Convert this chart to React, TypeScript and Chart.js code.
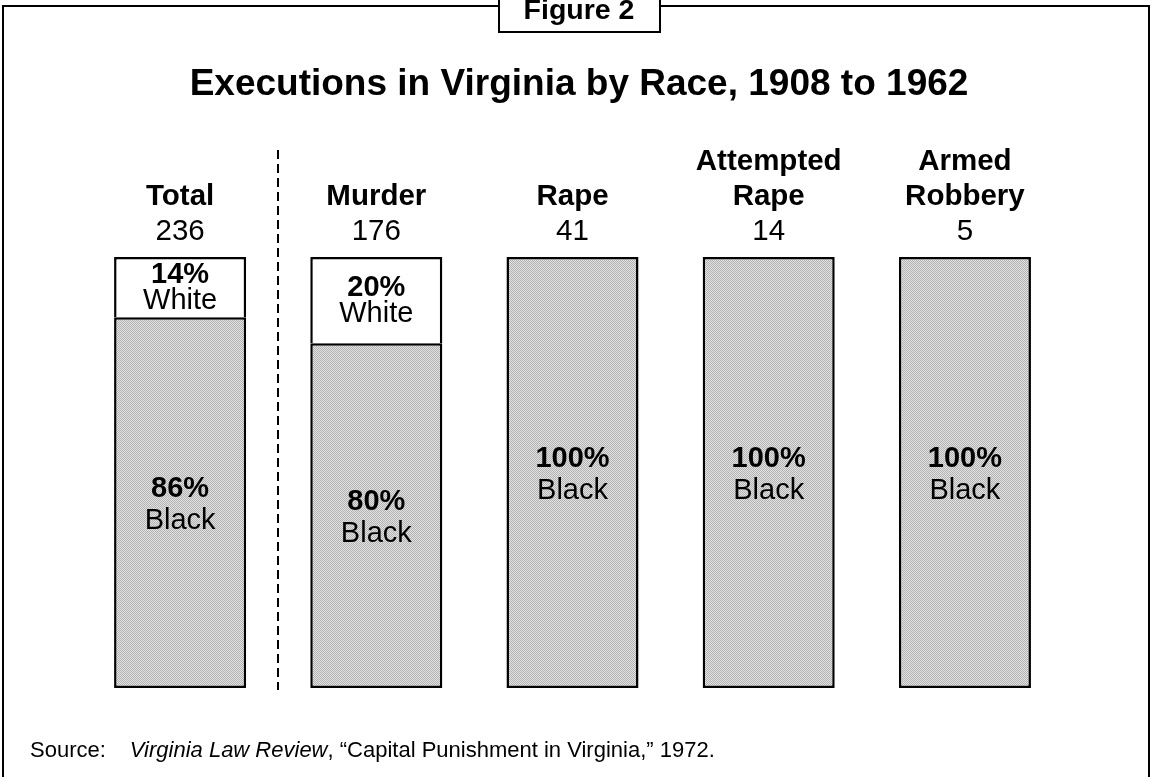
import React, { useEffect, useRef } from "react";
import { Chart, registerables } from "chart.js";

Chart.register(...registerables);

const categories: string[][] = [["Total"], ["Murder"], ["Rape"], ["Attempted", "Rape"], ["Armed", "Robbery"]];
const totals: number[] = [236, 176, 41, 14, 5];
const whitePct: number[] = [14, 20, 0, 0, 0];
const blackPct: number[] = [86, 80, 100, 100, 100];
const titleText = "Executions in Virginia by Race, 1908 to 1962";
const figureLabel = "Figure 2";
const sourceParts = [
  { text: "Source:", italic: false, gapAfter: 24 },
  { text: "Virginia Law Review", italic: true, gapAfter: 0 },
  { text: ", \u201CCapital Punishment in Virginia,\u201D 1972.", italic: false, gapAfter: 0 },
];

const FONT = '"Liberation Sans", Arial, Helvetica, sans-serif';

function makePattern(): CanvasPattern | string {
  const c = document.createElement("canvas");
  c.width = 2;
  c.height = 2;
  const g = c.getContext("2d");
  if (!g) return "#cccccc";
  g.fillStyle = "#e2e2e2";
  g.fillRect(0, 0, 2, 2);
  g.fillStyle = "#b2b2b2";
  g.fillRect(0, 0, 1, 1);
  g.fillRect(1, 1, 1, 1);
  const p = g.createPattern(c, "repeat");
  return p || "#cccccc";
}

const decorPlugin = {
  id: "decor",
  beforeDraw(chart: any) {
    const ctx = chart.ctx;
    ctx.save();
    ctx.fillStyle = "#ffffff";
    ctx.fillRect(0, 0, chart.width, chart.height);
    ctx.restore();
  },
  afterDraw(chart: any) {
    const ctx: CanvasRenderingContext2D = chart.ctx;
    ctx.save();
    // outer frame
    ctx.strokeStyle = "#000000";
    ctx.lineWidth = 2;
    ctx.strokeRect(3, 6, 1146, 800);
    // figure tab
    ctx.fillStyle = "#ffffff";
    ctx.fillRect(499, -10, 161, 42);
    ctx.strokeRect(499, -10, 161, 42);
    ctx.fillStyle = "#000000";
    ctx.textAlign = "center";
    ctx.textBaseline = "alphabetic";
    ctx.font = `bold 28.5px ${FONT}`;
    ctx.fillText(figureLabel, 579, 19);
    // title
    ctx.font = `bold 37px ${FONT}`;
    ctx.fillText(titleText, 579, 95);

    // headers & inner labels
    const metaB = chart.getDatasetMeta(0);
    const metaW = chart.getDatasetMeta(1);
    categories.forEach((lines, i) => {
      const bar = metaB.data[i];
      const x = bar.x;
      const all = [...lines, String(totals[i])];
      const lastBase = 240;
      all.forEach((t, k) => {
        const isCount = k === all.length - 1;
        ctx.font = `${isCount ? "" : "bold "}29.5px ${FONT}`;
        ctx.fillText(t, x, lastBase - (all.length - 1 - k) * 35);
      });
      const drawSeg = (el: any, pct: number, name: string) => {
        if (!pct) return;
        const top = Math.min(el.y, el.base);
        const bot = Math.max(el.y, el.base);
        const h = bot - top;
        const cy = (top + bot) / 2 + (h < 100 ? 1 : 2);
        const sp = h < 100 ? 26 : 32;
        ctx.textBaseline = "middle";
        ctx.font = `bold 29px ${FONT}`;
        ctx.fillText(`${pct}%`, x, cy - sp / 2);
        ctx.font = `29px ${FONT}`;
        ctx.fillText(name, x, cy + sp / 2);
        ctx.textBaseline = "alphabetic";
      };
      drawSeg(metaW.data[i], whitePct[i], "White");
      drawSeg(bar, blackPct[i], "Black");
    });

    // dashed separator between Total and Murder
    const x0 = metaB.data[0].x;
    const x1 = metaB.data[1].x;
    const dx = Math.round((x0 + x1) / 2);
    ctx.setLineDash([9, 5]);
    ctx.lineWidth = 2;
    ctx.beginPath();
    ctx.moveTo(dx, 150);
    ctx.lineTo(dx, 690);
    ctx.stroke();
    ctx.setLineDash([]);

    // source
    ctx.textAlign = "left";
    let sx = 30;
    sourceParts.forEach((p) => {
      ctx.font = `${p.italic ? "italic " : ""}22px ${FONT}`;
      ctx.fillText(p.text, sx, 757);
      sx += ctx.measureText(p.text).width + p.gapAfter;
    });
    ctx.restore();
  },
};

export default function App() {
  const ref = useRef<HTMLCanvasElement | null>(null);
  useEffect(() => {
    if (!ref.current) return;
    const pattern = makePattern();
    const chart = new Chart(ref.current, {
      type: "bar",
      data: {
        labels: categories.map((c) => c.join(" ")),
        datasets: [
          {
            label: "Black",
            data: blackPct,
            backgroundColor: pattern as any,
            borderColor: "#000000",
            borderWidth: 2.5,
            borderSkipped: false,
            categoryPercentage: 0.673,
            barPercentage: 1,
          },
          {
            label: "White",
            data: whitePct,
            backgroundColor: "#ffffff",
            borderColor: "#000000",
            borderWidth: (c: any) => (c.raw ? { top: 2.5, left: 2.5, right: 2.5, bottom: 0 } : 0),
            borderSkipped: false,
            categoryPercentage: 0.673,
            barPercentage: 1,
          },
        ],
      },
      options: {
        responsive: false,
        animation: false,
        devicePixelRatio: 1,
        layout: { padding: { left: 82, right: 88, top: 257, bottom: 89 } },
        scales: {
          x: { stacked: true, display: false },
          y: { stacked: true, display: false, min: 0, max: 100 },
        },
        plugins: {
          legend: { display: false },
          tooltip: { enabled: false },
          title: { display: false },
        },
      },
      plugins: [decorPlugin],
    } as any);
    return () => chart.destroy();
  }, []);
  return (
    <div style={{ position: "absolute", left: 0, top: 0, width: 1151, height: 777 }}>
      <canvas ref={ref} width={1151} height={777} style={{ display: "block" }} />
    </div>
  );
}
